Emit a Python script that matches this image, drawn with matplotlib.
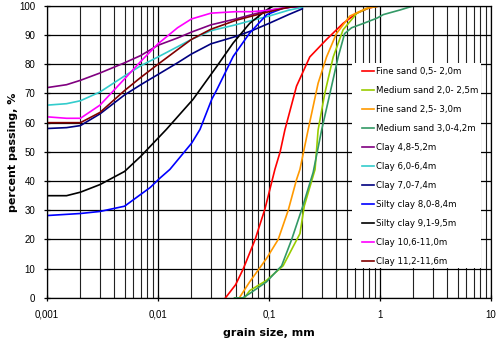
import matplotlib
matplotlib.use('Agg')
import matplotlib.pyplot as plt
from matplotlib.patches import Rectangle
from matplotlib.ticker import FixedLocator, FixedFormatter, NullFormatter

# grain size (mm) and percent passing
fs1_d = [0.0405, 0.05, 0.0587, 0.075, 0.092, 0.113, 0.126, 0.139, 0.177, 0.233, 0.33, 0.465, 0.62, 0.8, 1.0]
fs1_p = [0, 4.5, 10, 20, 30.5, 44, 50, 57.5, 72.5, 82.5, 88.5, 94, 97.5, 99.3, 100]

ms1_d = [0.049, 0.06, 0.067, 0.095, 0.134, 0.19, 0.208, 0.26, 0.277, 0.318, 0.379, 0.465, 0.62, 0.81, 1.0]
ms1_p = [0, 0, 2.5, 6, 11, 22, 31.5, 44, 57.5, 70, 82.5, 91.8, 97.5, 99.5, 100]

fs2_d = [0.054, 0.067, 0.095, 0.121, 0.149, 0.177, 0.19, 0.225, 0.277, 0.33, 0.405, 0.535, 0.76, 1.0]
fs2_p = [0, 5.5, 13.5, 20, 30, 40.5, 44, 57.5, 73.5, 82.5, 90.5, 96.5, 99.2, 100]

ms2_d = [0.049, 0.058, 0.067, 0.095, 0.13, 0.16, 0.2, 0.25, 0.298, 0.354, 0.42, 0.48, 0.555, 0.71, 0.94, 1.07, 1.52, 2.0]
ms2_p = [0, 0, 1.5, 5.5, 11, 20, 31, 43, 57.5, 70, 82.5, 90.5, 92.5, 94, 95.8, 97, 98.6, 100]

clay_d = [0.001, 0.0015, 0.002, 0.003, 0.005, 0.007, 0.01, 0.015, 0.02, 0.03, 0.05, 0.07, 0.1, 0.15, 0.2]
clay48_p = [72, 73, 74.5, 77, 80.5, 83, 86.5, 89, 91, 93.5, 95.5, 97, 98.5, 99.5, 100]
clay60_p = [66, 66.5, 67.5, 70.5, 76, 79.5, 82.5, 86, 88.5, 91.5, 93.5, 95, 96.5, 98.5, 99.5]
clay70_p = [58, 58.3, 59, 63, 69.5, 73, 76.5, 80.5, 83.5, 87, 89.5, 91.5, 94, 97, 99]
clay106_p = [62, 61.5, 61.5, 66, 75, 81, 87, 92.5, 95.5, 97.5, 98, 98, 98.5, 99.5, 100]
clay112_p = [60, 60, 60, 63.5, 71, 75.5, 80, 85, 88.5, 92, 95, 96.5, 98, 99.5, 100]

sc80_d = [0.001, 0.002, 0.003, 0.005, 0.0085, 0.0104, 0.0128, 0.0201, 0.0239, 0.0305, 0.0339, 0.0476, 0.067, 0.0955, 0.134, 0.197]
sc80_p = [28.2, 28.9, 29.6, 31.4, 37.8, 41, 44, 53, 57.7, 68, 71.3, 82.7, 90.7, 97, 99.2, 100]

sc91_d = [0.001, 0.0015, 0.002, 0.003, 0.005, 0.007, 0.0119, 0.0207, 0.0339, 0.0476, 0.067, 0.095, 0.11]
sc91_p = [35, 35, 36.2, 38.8, 43.3, 48.5, 57.7, 68, 79.3, 87.3, 94, 98.6, 100]

curves = [
    ('Fine sand 0,5- 2,0m', '#FF0000', fs1_d, fs1_p),
    ('Medium sand 2,0- 2,5m', '#99CC00', ms1_d, ms1_p),
    ('Fine sand 2,5- 3,0m', '#FF9900', fs2_d, fs2_p),
    ('Medium sand 3,0-4,2m', '#339966', ms2_d, ms2_p),
    ('Clay 4,8-5,2m', '#800080', clay_d, clay48_p),
    ('Clay 6,0-6,4m', '#33CCCC', clay_d, clay60_p),
    ('Clay 7,0-7,4m', '#000080', clay_d, clay70_p),
    ('Silty clay 8,0-8,4m', '#0000FF', sc80_d, sc80_p),
    ('Silty clay 9,1-9,5m', '#000000', sc91_d, sc91_p),
    ('Clay 10,6-11,0m', '#FF00FF', clay_d, clay106_p),
    ('Clay 11,2-11,6m', '#800000', clay_d, clay112_p),
]

x_ticks = [0.001, 0.01, 0.1, 1, 10]
x_labels = ['0,001', '0,01', '0,1', '1', '10']
y_ticks = list(range(0, 101, 10))

fig = plt.figure(figsize=(5, 3.44), dpi=100)
ax = fig.add_axes([0.094, 0.134, 0.888, 0.849])

for label, color, d, p in curves:
    ax.plot(d, p, color=color, lw=1.2, label=label, zorder=2)

ax.set_xscale('log')
ax.set_xlim(0.001, 10)
ax.set_ylim(0, 100)
ax.set_axisbelow(True)

ax.xaxis.set_major_locator(FixedLocator(x_ticks))
ax.xaxis.set_major_formatter(FixedFormatter(x_labels))
minors = [m * 10.0 ** e for e in range(-3, 1) for m in range(2, 10)]
ax.xaxis.set_minor_locator(FixedLocator(minors))
ax.xaxis.set_minor_formatter(NullFormatter())
ax.set_yticks(y_ticks)

ax.grid(True, which='major', color='black', lw=0.9)
ax.grid(True, which='minor', axis='x', color='#222222', lw=0.8)

for s in ax.spines.values():
    s.set_color('black')
    s.set_linewidth(0.9)

ax.tick_params(axis='both', which='major', direction='inout', length=5, width=0.9,
               labelsize=7, pad=6)
ax.tick_params(axis='x', which='minor', length=0)
for t in ax.get_xticklabels() + ax.get_yticklabels():
    t.set_fontfamily('Liberation Sans')

# white block behind the legend
ax.add_patch(Rectangle((0.687, 0.102), 0.29, 0.703, transform=ax.transAxes,
                       facecolor='white', edgecolor='none', zorder=1))

ax.legend(loc='upper left', bbox_to_anchor=(0.709, 0.789), frameon=False,
          fontsize=6.2, handlelength=1.45, handletextpad=0.15, borderpad=0,
          borderaxespad=0, labelspacing=1.16)

ax.set_xlabel('grain size, mm', fontsize=8, fontweight='bold', labelpad=6)
ax.set_ylabel('percent passing, %', fontsize=8, fontweight='bold', labelpad=1)

fig.savefig('out.png', dpi=100)
